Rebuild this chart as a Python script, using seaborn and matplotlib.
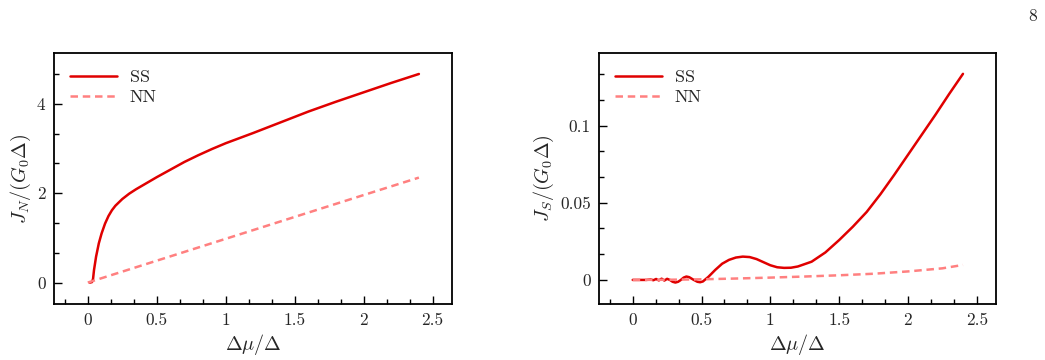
import numpy as np
import pandas as pd
import matplotlib
matplotlib.use("Agg")
import matplotlib.pyplot as plt
import seaborn as sns
from matplotlib.ticker import FixedLocator, MultipleLocator

# ---------------- data ----------------
x_ss_left = [0.015, 0.03, 0.038, 0.045, 0.06, 0.08, 0.1, 0.125, 0.15, 0.175, 0.2, 0.25, 0.3, 0.35,
             0.4, 0.5, 0.6, 0.7, 0.8, 0.9, 1.0, 1.2, 1.4, 1.6, 1.8, 2.0, 2.2, 2.4]
y_ss_left = [0.0, 0.01, 0.08, 0.28, 0.58, 0.88, 1.1, 1.32, 1.49, 1.62, 1.72, 1.87, 1.99, 2.09,
             2.18, 2.36, 2.53, 2.7, 2.85, 2.99, 3.12, 3.35, 3.59, 3.83, 4.05, 4.26, 4.47, 4.67]
x_nn_left = [0.0, 0.5, 1.0, 1.5, 2.0, 2.4]
y_nn_left = [0.0, 0.49, 0.98, 1.47, 1.96, 2.35]

x_ss_right = [0.0, 0.1, 0.13, 0.15, 0.17, 0.19, 0.21, 0.23, 0.25, 0.27, 0.29, 0.31, 0.33, 0.35, 0.37,
              0.39, 0.41, 0.44, 0.47, 0.49, 0.51, 0.55, 0.6, 0.65, 0.7, 0.75, 0.8, 0.85, 0.9, 0.95,
              1.0, 1.05, 1.1, 1.15, 1.2, 1.3, 1.4, 1.5, 1.6, 1.7, 1.8, 1.9, 2.0, 2.1, 2.2, 2.3, 2.4]
y_ss_right = [0.0, 0.0, 0.0003, -0.0002, 0.0006, -0.0003, 0.0008, -0.0004, 0.0007, 0.0, -0.0012,
              -0.0017, -0.0012, 0.0, 0.0015, 0.0022, 0.0018, 0.0002, -0.0012, -0.0015, -0.001,
              0.002, 0.0065, 0.0105, 0.013, 0.0145, 0.0151, 0.0148, 0.0135, 0.0115, 0.0095,
              0.0082, 0.0078, 0.0079, 0.0087, 0.0118, 0.0178, 0.0258, 0.0345, 0.044, 0.0555,
              0.068, 0.081, 0.094, 0.107, 0.1205, 0.1335]
x_nn_right = [0.0, 0.25, 0.5, 0.75, 1.0, 1.25, 1.5, 1.75, 2.0, 2.25, 2.4]
y_nn_right = [0.0, 0.0001, 0.0004, 0.0009, 0.0015, 0.0022, 0.003, 0.004, 0.0055, 0.0075, 0.0097]

xticks = [0, 0.5, 1, 1.5, 2, 2.5]
xticklabels = ["0", "0.5", "1", "1.5", "2", "2.5"]
yticks_left = [0, 2, 4]
yticklabels_left = ["0", "2", "4"]
yticks_right = [0, 0.05, 0.1]
yticklabels_right = ["0", "0.05", "0.1"]

series_labels = ["SS", "NN"]

# ---------------- style ----------------
sns.set_theme(style="ticks")
plt.rcParams["font.family"] = ["serif"]
plt.rcParams["font.serif"] = ["cmr10", "DejaVu Serif"]
plt.rcParams["mathtext.fontset"] = "cm"
plt.rcParams["axes.unicode_minus"] = False
plt.rcParams["axes.formatter.use_mathtext"] = True

SS_COLOR = "#e00000"
NN_COLOR = "#ff8080"

fig = plt.figure(figsize=(10.45, 3.6), dpi=100)
ax1 = fig.add_axes([54 / 1045, 56 / 360, 398 / 1045, 251 / 360])
ax2 = fig.add_axes([599 / 1045, 56 / 360, 397 / 1045, 251 / 360])


def draw(ax, xs, ys, xn, yn):
    df_s = pd.DataFrame({"x": xs, "y": ys})
    df_n = pd.DataFrame({"x": xn, "y": yn})
    sns.lineplot(data=df_s, x="x", y="y", ax=ax, color=SS_COLOR, lw=1.8,
                 label=series_labels[0], estimator=None, sort=False)
    sns.lineplot(data=df_n, x="x", y="y", ax=ax, color=NN_COLOR, lw=1.8,
                 label=series_labels[1], estimator=None, sort=False, dashes=False)
    ax.lines[0].set_solid_joinstyle("round")
    ax.lines[1].set_linestyle((0, (3.0, 1.9)))


def style(ax, yt, ytl, yminor, ylim, ylabel):
    ax.set_xlim(-0.245, 2.64)
    ax.set_ylim(*ylim)
    ax.xaxis.set_major_locator(FixedLocator(xticks))
    ax.set_xticklabels(xticklabels)
    ax.xaxis.set_minor_locator(MultipleLocator(1 / 6))
    ax.yaxis.set_major_locator(FixedLocator(yt))
    ax.set_yticklabels(ytl)
    ax.yaxis.set_minor_locator(MultipleLocator(yminor))
    ax.tick_params(which="both", direction="in", top=False, right=False,
                   labelsize=12.5, width=1.0, color="black")
    ax.tick_params(which="major", length=6, pad=6)
    ax.tick_params(which="minor", length=3.5)
    for s in ax.spines.values():
        s.set_linewidth(1.3)
        s.set_color("black")
        s.set_visible(True)
    ax.set_xlabel(r"$\Delta\mu/\Delta$", fontsize=14.5, labelpad=3)
    ax.set_ylabel(ylabel, fontsize=14.5, labelpad=3)
    ax.legend(loc="upper left", frameon=False, fontsize=13,
              handlelength=2.6, handletextpad=0.7, labelspacing=0.25,
              borderaxespad=0.5)


draw(ax1, x_ss_left, y_ss_left, x_nn_left, y_nn_left)
draw(ax2, x_ss_right, y_ss_right, x_nn_right, y_nn_right)
style(ax1, yticks_left, yticklabels_left, 2 / 3, (-0.48, 5.14), r"$J_N/(G_0\Delta)$")
style(ax2, yticks_right, yticklabels_right, 0.05 / 3, (-0.0156, 0.147), r"$J_S/(G_0\Delta)$")

fig.text(1033 / 1045, 1 - 16 / 360, "8", ha="center", va="center", fontsize=12.5)

fig.savefig("out.png", dpi=100)
